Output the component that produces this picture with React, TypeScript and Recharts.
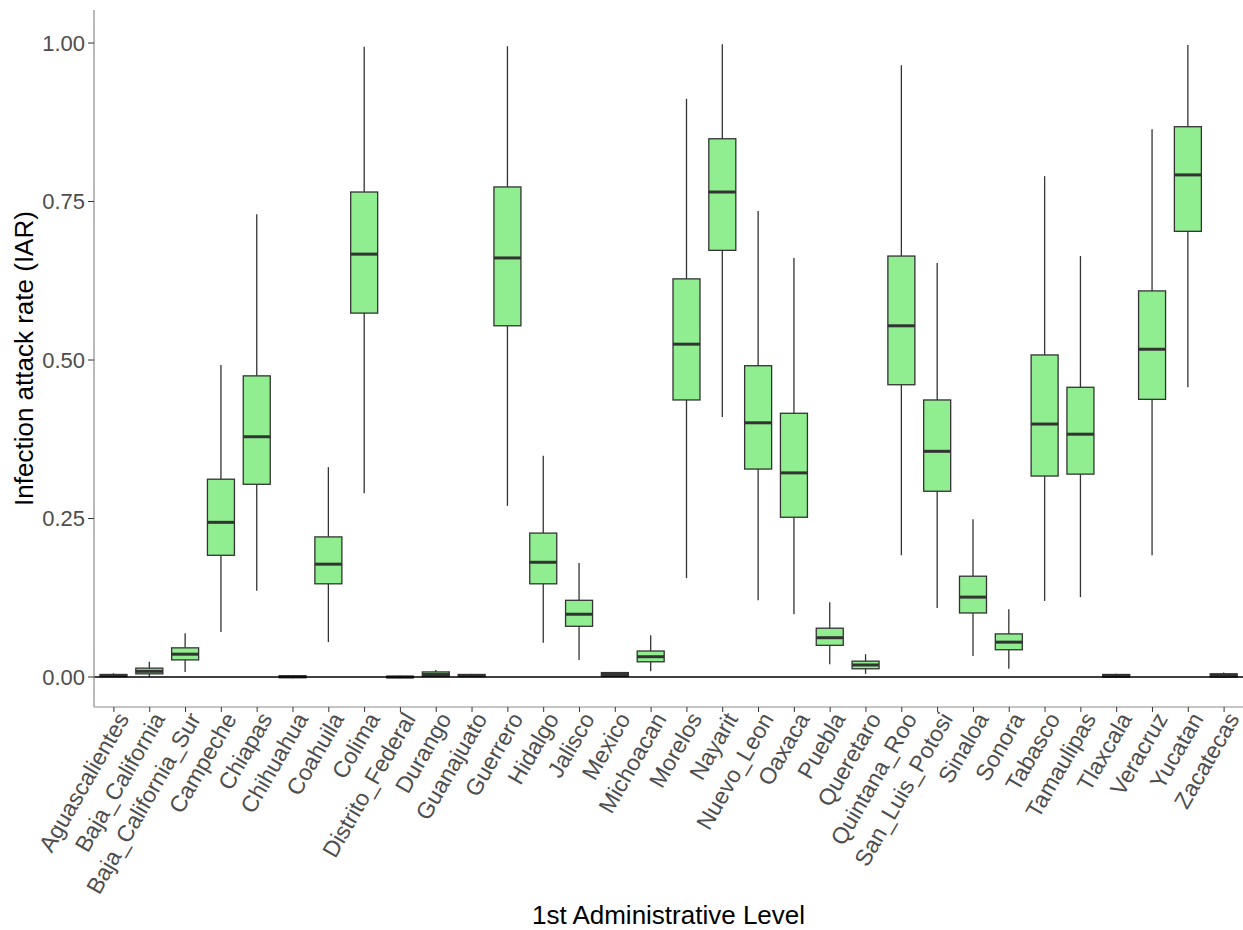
import { ComposedChart, Bar, XAxis, YAxis, ReferenceLine } from 'recharts';

const states = [
  'Aguascalientes', 'Baja_California', 'Baja_California_Sur', 'Campeche', 'Chiapas', 'Chihuahua',
  'Coahuila', 'Colima', 'Distrito_Federal', 'Durango', 'Guanajuato', 'Guerrero', 'Hidalgo',
  'Jalisco', 'Mexico', 'Michoacan', 'Morelos', 'Nayarit', 'Nuevo_Leon', 'Oaxaca', 'Puebla',
  'Queretaro', 'Quintana_Roo', 'San_Luis_Potosi', 'Sinaloa', 'Sonora', 'Tabasco', 'Tamaulipas',
  'Tlaxcala', 'Veracruz', 'Yucatan', 'Zacatecas',
];

// whisker ends and box quartiles per state
const lowWhisker = [
  0, 0, 0.008, 0.071, 0.136, -0.002, 0.055, 0.29, -0.002, 0, 0, 0.27, 0.054, 0.027, 0, 0.009,
  0.156, 0.41, 0.121, 0.099, 0.02, 0.005, 0.192, 0.109, 0.033, 0.013, 0.12, 0.126, -0.001, 0.192,
  0.457, -0.001,
];
const lowerQuartile = [
  0.001, 0.005, 0.027, 0.192, 0.304, -0.001, 0.147, 0.574, -0.001, 0.001, 0.001, 0.554, 0.147,
  0.08, 0.001, 0.024, 0.437, 0.673, 0.328, 0.252, 0.05, 0.013, 0.461, 0.293, 0.101, 0.043, 0.317,
  0.32, 0, 0.438, 0.703, 0,
];
const medians = [
  0.002, 0.009, 0.036, 0.244, 0.379, 0.0005, 0.178, 0.667, 0, 0.004, 0.002, 0.661, 0.181, 0.099,
  0.004, 0.032, 0.525, 0.765, 0.401, 0.322, 0.062, 0.019, 0.554, 0.356, 0.126, 0.055, 0.399,
  0.383, 0.002, 0.517, 0.792, 0.003,
];
const upperQuartile = [
  0.004, 0.014, 0.046, 0.312, 0.475, 0.002, 0.221, 0.765, 0.001, 0.008, 0.004, 0.773, 0.227,
  0.121, 0.007, 0.041, 0.628, 0.849, 0.491, 0.416, 0.077, 0.025, 0.664, 0.437, 0.159, 0.068,
  0.508, 0.457, 0.004, 0.609, 0.868, 0.005,
];
const highWhisker = [
  0.006, 0.024, 0.069, 0.492, 0.73, 0.003, 0.331, 0.994, 0.002, 0.011, 0.005, 0.995, 0.349, 0.18,
  0.008, 0.066, 0.912, 0.998, 0.735, 0.661, 0.118, 0.036, 0.965, 0.653, 0.249, 0.107, 0.79,
  0.664, 0.005, 0.864, 0.997, 0.007,
];

const yTicks = [0, 0.25, 0.5, 0.75, 1];

const rows = states.map((name, i) => ({
  name,
  min: lowWhisker[i],
  q1: lowerQuartile[i],
  median: medians[i],
  q3: upperQuartile[i],
  max: highWhisker[i],
}));

const FONT = '"Liberation Sans", Arial, sans-serif';
const INK = '#333333';

function BoxShape(props: any) {
  const { x, y, width, height, payload } = props;
  if (x == null || y == null) return null;
  const top = height >= 0 ? y : y + height;
  const h = Math.abs(height);
  const span = payload.max - payload.min;
  const px = (v: number) => (span > 0 ? top + (h * (payload.max - v)) / span : top);
  const cx = x + width / 2;
  const yQ1 = px(payload.q1);
  const yQ3 = px(payload.q3);
  const yMed = px(payload.median);
  return (
    <g>
      <line x1={cx} x2={cx} y1={px(payload.max)} y2={yQ3} stroke={INK} strokeWidth={1.3} />
      <line x1={cx} x2={cx} y1={yQ1} y2={px(payload.min)} stroke={INK} strokeWidth={1.3} />
      <rect x={x} y={yQ3} width={width} height={Math.max(yQ1 - yQ3, 0)} fill="#90EE90" stroke={INK} strokeWidth={1.3} />
      <line x1={x} x2={x + width} y1={yMed} y2={yMed} stroke={INK} strokeWidth={3} />
    </g>
  );
}

function StateTick(props: any) {
  const { x, y, payload } = props;
  const ax = x + 1;
  const ay = y - 4;
  return (
    <text
      x={ax}
      y={ay}
      dy="0.75em"
      transform={`rotate(-60 ${ax} ${ay})`}
      textAnchor="end"
      fill="#4D4D4D"
      fontSize={23}
      fontFamily={FONT}
    >
      {payload.value}
    </text>
  );
}

function XTitle(props: any) {
  const { x, y, width, height } = props.viewBox;
  return (
    <text x={x + width / 2} y={y + height - 6} textAnchor="middle" fill="#000" fontSize={26} fontFamily={FONT}>
      1st Administrative Level
    </text>
  );
}

function YTitle(props: any) {
  const { x, y, height } = props.viewBox;
  const tx = x + 33;
  const ty = y + height / 2;
  return (
    <text
      x={tx}
      y={ty}
      transform={`rotate(-90 ${tx} ${ty})`}
      textAnchor="middle"
      fill="#000"
      fontSize={26}
      fontFamily={FONT}
    >
      Infection attack rate (IAR)
    </text>
  );
}

export default function App() {
  return (
    <div style={{ position: 'absolute', left: 0, top: 0, background: '#fff' }}>
      <ComposedChart width={1243} height={930} data={rows} margin={{ top: 10, right: 0, bottom: 0, left: 0 }}>
        <XAxis
          xAxisId="top"
          orientation="top"
          dataKey="name"
          height={0}
          tick={false}
          tickLine={false}
          axisLine={{ stroke: '#8c8c8c', strokeWidth: 1.2 }}
        />
        <XAxis
          dataKey="name"
          interval={0}
          height={223}
          padding={{ left: 2, right: 1 }}
          axisLine={{ stroke: '#8c8c8c', strokeWidth: 1.2 }}
          tickLine={{ stroke: INK }}
          tickSize={5}
          tick={<StateTick />}
          label={XTitle}
        />
        <YAxis
          width={94}
          type="number"
          domain={[-0.0473, 1.0521]}
          allowDataOverflow
          ticks={yTicks}
          tickFormatter={(v: number) => v.toFixed(2)}
          axisLine={{ stroke: '#8c8c8c', strokeWidth: 1.2 }}
          tickLine={{ stroke: INK }}
          tickSize={6}
          tickMargin={3}
          tick={{ fill: '#4D4D4D', fontSize: 22, fontFamily: FONT }}
          label={YTitle}
        />
        <ReferenceLine y={0} stroke="#000" strokeWidth={1.5} />
        <Bar
          dataKey={(d: any) => [d.min, d.max]}
          barSize={27}
          shape={<BoxShape />}
          isAnimationActive={false}
        />
      </ComposedChart>
    </div>
  );
}
